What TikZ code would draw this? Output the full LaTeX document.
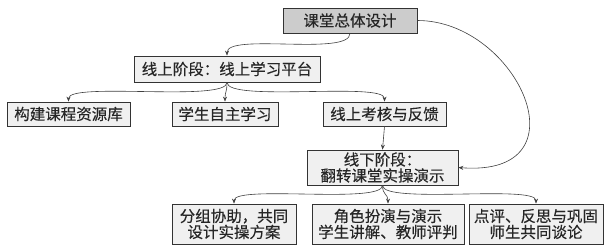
\documentclass[tikz,border=0pt]{standalone}
\usepackage{fontspec}
\setmainfont{Noto Sans CJK SC}[FakeBold=0.25]
\usetikzlibrary{arrows.meta}
\begin{document}
\begin{tikzpicture}[x=1pt,y=-1pt,
  box/.style={draw=black!80,fill=black!6,line width=0.8pt,inner sep=0pt,align=center,
    font=\fontsize{15.5}{16}\selectfont,text=black!85},
  link/.style={-{Stealth[length=5pt,width=4pt]},draw=black!75,line width=0.6pt}]
  \useasboundingbox (0,0) rectangle (606,246);
  \node[box,fill=black!20,minimum width=134pt,minimum height=25pt] (design) at (350,20.5) {课堂总体设计};
  \node[box,minimum width=186pt,minimum height=26pt] (online) at (227,69) {线上阶段：线上学习平台};
  \node[box,minimum width=123pt,minimum height=24pt] (res) at (68.5,114) {构建课程资源库};
  \node[box,minimum width=106pt,minimum height=24pt] (study) at (225,114) {学生自主学习};
  \node[box,minimum width=123pt,minimum height=24pt] (exam) at (384.5,114) {线上考核与反馈};
  \node[box,minimum width=151pt,minimum height=35pt] (offline) at (382.5,167.5) {线下阶段：\\翻转课堂实操演示};
  \node[box,minimum width=124pt,minimum height=40pt] (group) at (234,224) {分组协助，共同\\设计实操方案};
  \node[box,minimum width=152pt,minimum height=40pt] (role) at (388,224) {角色扮演与演示\\学生讲解、教师评判};
  \node[box,minimum width=134pt,minimum height=40pt] (review) at (536,224) {点评、反思与巩固\\师生共同谈论};
  \draw[link] (design.south) .. controls +(0,23) and +(0,-23) .. (online.north);
  \draw[link] (online.south) .. controls +(0,20) and +(0,-20) .. (res.north);
  \draw[link] (online.south) .. controls +(0,10) and +(0,-10) .. (study.north);
  \draw[link] (online.south) .. controls +(0,20) and +(0,-20) .. (exam.north);
  \draw[link] (exam.south) -- (offline.north);
  \draw[link] (design.east) .. controls +(100,0) and +(130,10) .. (offline.east);
  \draw[link] (offline.south) .. controls +(0,19) and +(0,-19) .. (group.north);
  \draw[link] (offline.south) .. controls +(0,10) and +(0,-10) .. (role.north);
  \draw[link] (offline.south) .. controls +(0,19) and +(0,-19) .. (review.north);
\end{tikzpicture}
\end{document}
